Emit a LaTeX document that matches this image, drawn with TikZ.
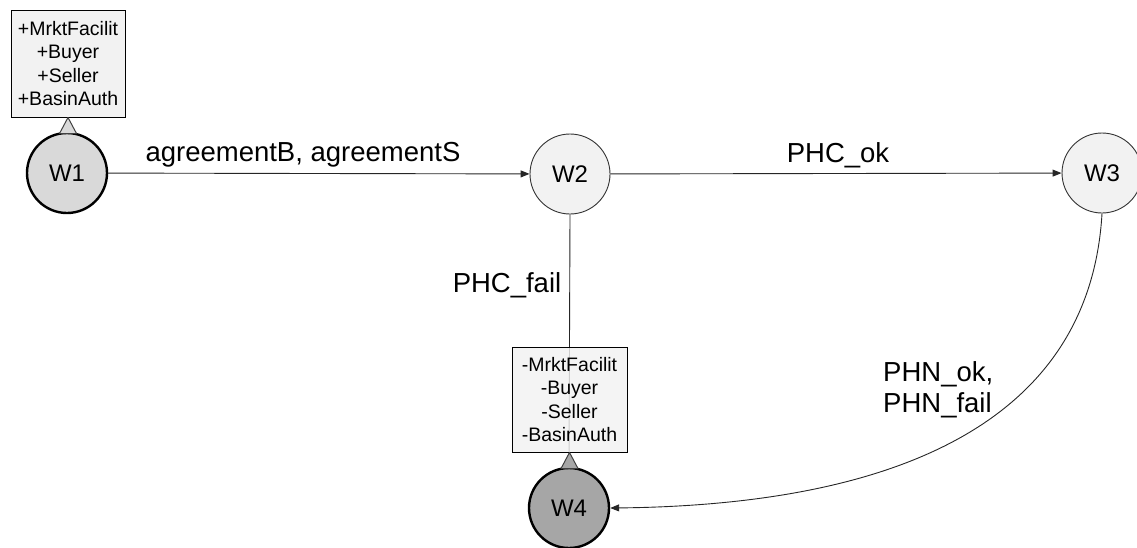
\documentclass[tikz,border=0pt]{standalone}
\usepackage{fontspec}
\setmainfont{Liberation Sans}
\usetikzlibrary{arrows.meta}
\definecolor{paleFill}{HTML}{F2F2F2}
\definecolor{startFill}{HTML}{D9D9D9}
\definecolor{endFill}{HTML}{A6A6A6}
\begin{document}
\begin{tikzpicture}[x=1pt,y=-1pt,
  state/.style={circle,draw=black!80,line width=0.9pt,fill=paleFill,minimum size=80pt,inner sep=0pt,
    font=\fontsize{24}{28}\selectfont},
  startstate/.style={state,draw=black,line width=2.4pt,fill=startFill},
  endstate/.style={state,draw=black,line width=2.4pt,fill=endFill},
  rolebox/.style={draw=black,line width=1pt,fill=paleFill,align=center,inner sep=0pt,
    font=\fontsize{19.5}{23.3}\selectfont},
  pin/.style={draw=black!75,line width=1pt,line join=round},
  trans/.style={line width=0.9pt,draw=black!85,-{Triangle[length=9pt,width=7pt]}},
  lbl/.style={font=\fontsize{27.5}{31}\selectfont,inner sep=0pt}
]
\useasboundingbox (0,0) rectangle (1137,547);

% states
\node[startstate] (w1) at (67,173) {W1};
\node[state] (w2) at (570,174) {W2};
\node[state] (w3) at (1102,173) {W3};
\node[endstate] (w4) at (569,508) {W4};

% failure branch drawn first so the role box sits over it
\draw[line width=0.9pt,draw=black!85] (w2.south) -- (w4.north);

% role boxes with their pins
\node[rolebox,minimum width=114pt,minimum height=107pt] (b1) at (68,63.5)
  {+MrktFacilit\\+Buyer\\+Seller\\+BasinAuth};
\filldraw[pin,fill=startFill] (b1.south) -- ++(-8.5,16) -- ++(17,0) -- cycle;
\node[rolebox,minimum width=115pt,minimum height=105pt,fill opacity=0.82,text opacity=1,draw opacity=1] (b4) at (569.5,399.5)
  {-MrktFacilit\\-Buyer\\-Seller\\-BasinAuth};
\filldraw[pin,fill=endFill] (b4.south) -- ++(-8.5,16) -- ++(17,0) -- cycle;

% transitions
\draw[trans] (w1) -- (w2);
\draw[trans] (w2) -- (w3);
\draw[trans] (w3.south) .. controls (1090,420) and (900,505) .. (w4.east);

% labels
\node[lbl] (l1) at (303,155) {agreementB, agreementS};
\node[lbl] (l2) at (838,155) {PHC\_ok};
\node[lbl] (l3) at (507,285) {PHC\_fail};
\node[lbl,align=left,anchor=west] (l4) at (883,390) {PHN\_ok,\\PHN\_fail};
\end{tikzpicture}
\end{document}
